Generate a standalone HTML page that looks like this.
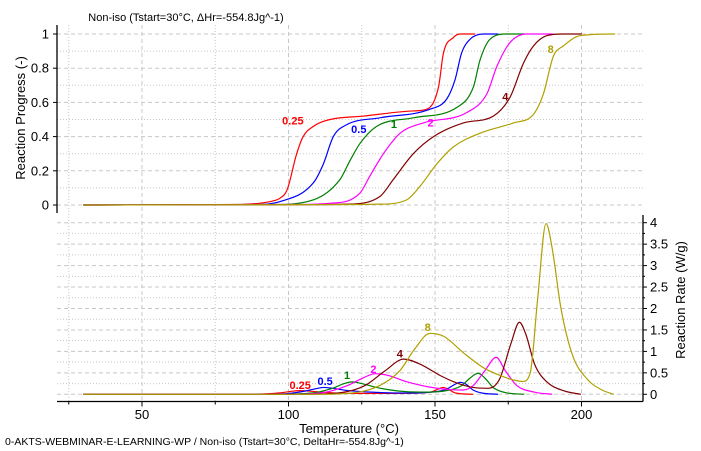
<!DOCTYPE html>
<html><head><meta charset="utf-8"><style>
body{margin:0;background:#fff;}
svg{display:block;font-family:"Liberation Sans",sans-serif;}
</style></head><body>
<svg id="chart" width="701" height="451" viewBox="0 0 701 451" xmlns="http://www.w3.org/2000/svg">
<g id="grid"></g>
<g id="axes"></g>
<g id="series"></g>
<g id="labels"></g>
<text x="186" y="21" font-size="11" text-anchor="middle" fill="#000">Non-iso (Tstart=30°C, ΔHr=-554.8Jg^-1)</text>
<text x="349" y="433" font-size="13" text-anchor="middle" fill="#000">Temperature (°C)</text>
<text transform="translate(25,118) rotate(-90)" font-size="13" text-anchor="middle" fill="#000">Reaction Progress (-)</text>
<text transform="translate(685,300) rotate(-90)" font-size="13" text-anchor="middle" fill="#000">Reaction Rate (W/g)</text>
<text x="5" y="445" font-size="10.5" fill="#000">0-AKTS-WEBMINAR-E-LEARNING-WP / Non-iso (Tstart=30°C, DeltaHr=-554.8Jg^-1)</text>
</svg>
<script>
// ---- data ----
const seriesNames = ["0.25","0.5","1","2","4","8"];
const seriesColors = ["#ff0000","#0000ff","#008000","#ff00ff","#800000","#b0a000"];
const xTicks = [50,100,150,200];
const progressTicks = [0,0.2,0.4,0.6,0.8,1];
const rateTicks = [0,0.5,1,1.5,2,2.5,3,3.5,4];
const rateTickLabels = ["0","0.5","1","1.5","2","2.5","3","3.5","4"];

const alphaT_025 = [30,82,90,95,97.1,99.5,102.8,105,108.5,114.2,125.6,142.6,147.2,151.2,152.9,156.3,158.5,163.7];
const alphaV_025 = [0,0.003,0.01,0.025,0.04,0.088,0.30,0.40,0.46,0.50,0.52,0.55,0.56,0.69,0.89,0.98,1,1];
const alphaT_05 = [30,88,97.1,108.5,111.9,115.3,119.9,131.2,148.3,154.0,156.8,159.1,162.0,166.5,171.6];
const alphaV_05 = [0,0.003,0.02,0.13,0.24,0.40,0.47,0.51,0.56,0.62,0.73,0.89,0.97,1,1];
const alphaT_1 = [30,95,108.5,117.6,121.0,124.4,130.1,142.6,157.4,163.1,165.4,168.8,174.5,180.7];
const alphaV_1 = [0,0.003,0.03,0.15,0.26,0.36,0.46,0.51,0.57,0.69,0.85,0.97,1,1];
const alphaT_2 = [30,100,114.2,124.4,127.8,132.4,138.1,146.0,160.8,167.7,171.1,175.6,181.3,190.4];
const alphaV_2 = [0,0.003,0.01,0.07,0.17,0.30,0.42,0.48,0.54,0.65,0.81,0.95,1,1];
const alphaT_4 = [30,105,119.9,131.2,135.8,142.6,149.5,159.7,169.9,175.6,180.2,183.6,188.1,193.8,200.1];
const alphaV_4 = [0,0.002,0.005,0.05,0.15,0.30,0.40,0.48,0.52,0.63,0.83,0.93,0.99,1,1];
const alphaT_8 = [30,110,131.2,140.3,144.9,150.6,156.3,165.4,176.8,183.6,187.0,190.4,193.8,199.5,210.9,211.5];
const alphaV_8 = [0,0.002,0.005,0.03,0.11,0.24,0.34,0.42,0.48,0.53,0.65,0.87,0.93,0.99,1,1];

const rateT_025 = [30,82,92,98,101,104.2,107,111,118,130,145,149,151,152.8,154.5,157,163];
const rateV_025 = [0,0,0.01,0.04,0.07,0.085,0.075,0.05,0.025,0.02,0.03,0.06,0.12,0.16,0.12,0.03,0];
const rateT_05 = [30,88,100,106,110,112,115,120,128,140,150,154,156.5,158.5,160.5,163,166,171.5];
const rateV_05 = [0,0,0.02,0.08,0.14,0.16,0.14,0.09,0.05,0.03,0.06,0.12,0.22,0.28,0.24,0.1,0.03,0];
const rateT_1 = [30,95,108,115,119,121.7,125,130,137,145,155,159,162,164.7,167,170,174,180.5];
const rateV_1 = [0,0,0.03,0.14,0.25,0.29,0.25,0.16,0.08,0.05,0.1,0.2,0.38,0.49,0.38,0.15,0.04,0];
const rateT_2 = [30,100,112,120,126,129.6,134,140,148,155,159.6,163,167,170.9,174,178,184,190];
const rateV_2 = [0,0,0.04,0.2,0.4,0.48,0.44,0.3,0.17,0.11,0.1,0.2,0.55,0.86,0.55,0.2,0.05,0];
const rateT_4 = [30,105,118,126,133,139.3,145,152,158,163,168,172,176,178.8,181,184,188,194,199.8];
const rateV_4 = [0,0,0.04,0.2,0.55,0.82,0.7,0.43,0.25,0.16,0.14,0.35,1.2,1.68,1.4,0.7,0.3,0.08,0];
const rateT_8 = [30,110,123,131,138,143,148.3,153,160,167,173,177,180,182.5,185,187.9,190,193,197,202,207,211];
const rateV_8 = [0,0,0.04,0.2,0.55,1.05,1.42,1.35,0.95,0.6,0.42,0.33,0.3,0.5,2.2,3.98,3.4,2.0,0.9,0.35,0.1,0];

// label positions in data space [T, value]
const upperLabelT = [101.5,124,136,148.5,174,189.5];
const upperLabelA = [0.47,0.42,0.45,0.46,0.61,0.89];
const lowerLabelT = [104,112.5,120,129,138,147.5];
const lowerLabelR = [0.12,0.22,0.36,0.5,0.86,1.48];

const alphaT = [alphaT_025,alphaT_05,alphaT_1,alphaT_2,alphaT_4,alphaT_8];
const alphaV = [alphaV_025,alphaV_05,alphaV_1,alphaV_2,alphaV_4,alphaV_8];
const rateT = [rateT_025,rateT_05,rateT_1,rateT_2,rateT_4,rateT_8];
const rateV = [rateV_025,rateV_05,rateV_1,rateV_2,rateV_4,rateV_8];

// ---- scales ----
const xS = t => 288.5 + (t-100)*2.93;
const yA = a => 205 - a*171;
const yR = r => 394.3 - r*42.9;
const NS = "http://www.w3.org/2000/svg";
function mk(tag, attrs, parent){const e=document.createElementNS(NS,tag);for(const k in attrs)e.setAttribute(k,attrs[k]);parent.appendChild(e);return e;}

const grid=document.getElementById('grid'), axes=document.getElementById('axes'), ser=document.getElementById('series'), lab=document.getElementById('labels');
const L=57, R=643, TOP=25, MID=213, BOT=401.5;

// vertical grid
for(let t=25;t<=200;t+=25){
  const major = t%50===0;
  const g=mk('line',{x1:xS(t),x2:xS(t),y1:TOP,y2:BOT,stroke:'#c8c8c8','stroke-width':1,'stroke-dasharray':major?'4,3':'1,2'},grid);
  
  
}
// upper horizontal grid
for(let i=0;i<=10;i++){
  const a=i/10, major=i%2===0;
  const g=mk('line',{x1:L,x2:R,y1:yA(a),y2:yA(a),stroke:'#c8c8c8','stroke-width':1,'stroke-dasharray':major?'4,3':'1,2'},grid);
  
  
}
// lower horizontal grid
for(let i=0;i<=16;i++){
  const r=i/4, major=i%2===0;
  const g=mk('line',{x1:L,x2:R,y1:yR(r),y2:yR(r),stroke:'#c8c8c8','stroke-width':1,'stroke-dasharray':major?'4,3':'1,2'},grid);
  
  
}
// axes lines
let ax=mk('line',{x1:L,x2:L,y1:TOP,y2:MID,stroke:'#000','stroke-width':1.3},axes);


ax=mk('line',{x1:R,x2:R,y1:MID+2,y2:BOT,stroke:'#000','stroke-width':1.3},axes);


ax=mk('line',{x1:L,x2:R,y1:BOT,y2:BOT,stroke:'#000','stroke-width':1.3},axes);


for(let t=25;t<=200;t+=25){
  const tk=mk('line',{x1:xS(t),x2:xS(t),y1:BOT,y2:BOT+(t%50===0?5:3),stroke:'#000'},axes);
  
  
}
xTicks.forEach(t=>{
  const e=mk('text',{x:xS(t),y:419,'font-size':13,'text-anchor':'middle',fill:'#000'},axes);e.textContent=t;
  
  
});
progressTicks.forEach(a=>{
  const tk=mk('line',{x1:L-4,x2:L,y1:yA(a),y2:yA(a),stroke:'#000'},axes);
  
  
  const e=mk('text',{x:49,y:yA(a)+4.5,'font-size':13,'text-anchor':'end',fill:'#000'},axes);e.textContent=String(a);
  
  
});
for(let i=0;i<=16;i++){
  const tk=mk('line',{x1:R,x2:R+(i%2===0?4:2),y1:yR(i/4),y2:yR(i/4),stroke:'#000'},axes);
  
  
}
rateTicks.forEach((r,i)=>{
  const e=mk('text',{x:650,y:yR(r)+4.5,'font-size':13,fill:'#000'},axes);e.textContent=rateTickLabels[i];
  
  
});

// monotone cubic interpolation
function monoPath(xs, ys, fx, fy){
  const n=xs.length, d=[], m=[];
  for(let i=0;i<n-1;i++) d.push((ys[i+1]-ys[i])/(xs[i+1]-xs[i]));
  m[0]=d[0]; m[n-1]=d[n-2];
  for(let i=1;i<n-1;i++){ m[i]=(d[i-1]*d[i]<=0)?0:(d[i-1]+d[i])/2; }
  for(let i=0;i<n-1;i++){ if(d[i]===0){m[i]=0;m[i+1]=0;continue;} const a=m[i]/d[i], b=m[i+1]/d[i], s=a*a+b*b; if(s>9){const t=3/Math.sqrt(s); m[i]=t*a*d[i]; m[i+1]=t*b*d[i];} }
  let p='M'+fx(xs[0]).toFixed(2)+','+fy(ys[0]).toFixed(2);
  for(let i=0;i<n-1;i++){
    const h=xs[i+1]-xs[i];
    p+=' C'+fx(xs[i]+h/3).toFixed(2)+','+fy(ys[i]+m[i]*h/3).toFixed(2)+' '+fx(xs[i+1]-h/3).toFixed(2)+','+fy(ys[i+1]-m[i+1]*h/3).toFixed(2)+' '+fx(xs[i+1]).toFixed(2)+','+fy(ys[i+1]).toFixed(2);
  }
  return p;
}
for(let s=0;s<seriesNames.length;s++){
  const pa=mk('path',{d:monoPath(alphaT[s],alphaV[s],xS,yA),fill:'none',stroke:seriesColors[s],'stroke-width':1.2},ser);
  
  
  const pr=mk('path',{d:monoPath(rateT[s],rateV[s],xS,yR),fill:'none',stroke:seriesColors[s],'stroke-width':1.2},ser);
  
  
  const lu=mk('text',{x:xS(upperLabelT[s]),y:yA(upperLabelA[s]),'font-size':11,'font-weight':'bold','text-anchor':'middle',fill:seriesColors[s]},lab);
  lu.textContent=seriesNames[s];
  
  
  const ll=mk('text',{x:xS(lowerLabelT[s]),y:yR(lowerLabelR[s]),'font-size':11,'font-weight':'bold','text-anchor':'middle',fill:seriesColors[s]},lab);
  ll.textContent=seriesNames[s];
  
  
}
</script>
</body></html>
